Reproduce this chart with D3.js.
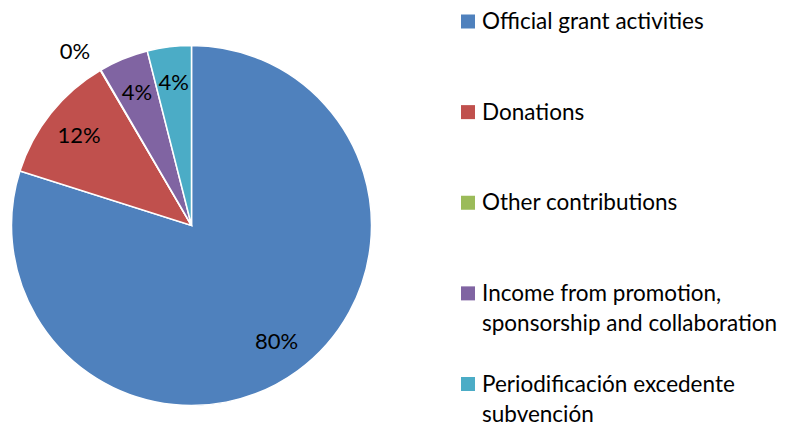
<!DOCTYPE html>
<html>
<head>
<meta charset="utf-8">
<script src="https://cdn.jsdelivr.net/npm/d3@7"></script>
<style>
  body { margin: 0; background: #fff; }
  text { font-family: Lato, "Open Sans", sans-serif; fill: #000; }
</style>
</head>
<body>
<script>
const categories = [
  'Official grant activities',
  'Donations',
  'Other contributions',
  'Income from promotion, sponsorship and collaboration',
  'Periodificación excedente subvención'
]
const legendLines = [
  ['Official grant activities'],
  ['Donations'],
  ['Other contributions'],
  ['Income from promotion,', 'sponsorship and collaboration'],
  ['Periodificación excedente', 'subvención']
]
const values = [79.9, 11.65, 0.05, 4.45, 3.95]
const labels = ['80%', '12%', '0%', '4%', '4%']
const colors = ['#4F81BD', '#C0504D', '#9BBB59', '#8064A2', '#4BACC6']

const W = 802, H = 422
const cx = 191.5, cy = 225.5, R = 180

const svg = d3.select('body')
  .append('svg')
  .attr('width', W)
  .attr('height', H)

const data = categories.map((c, i) => ({ name: c, v: values[i], label: labels[i], color: colors[i] }))

const pie = d3.pie().value(d => d.v).sort(null)
const arcs = pie(data)
const arc = d3.arc().innerRadius(0).outerRadius(R)

const g = svg.append('g')
  .attr('transform', `translate(${cx}, ${cy})`)

g.selectAll('path.slice')
  .data(arcs)
  .enter()
  .append('path')
  .attr('class', 'slice')
  .attr('d', arc)
  .attr('fill', d => d.data.color)
  .attr('stroke', '#fff')
  .attr('stroke-width', 1.5)

// labels inside at 0.8R, tiny slice goes outside
const inner = d3.arc().innerRadius(R * 0.8).outerRadius(R * 0.8)
const outer = d3.arc().innerRadius(R * 1.15).outerRadius(R * 1.15)

g.selectAll('text.lbl')
  .data(arcs)
  .enter()
  .append('text')
  .attr('class', 'lbl')
  .attr('transform', d => {
    const p = (d.data.v < 1 ? outer : inner).centroid(d)
    if (d.data.v < 1) { p[0] -= 12; p[1] += 4 }
    return `translate(${p[0]}, ${p[1]})`
  })
  .attr('text-anchor', 'middle')
  .attr('dy', '0.35em')
  .style('font-size', '22px')
  .text(d => d.data.label)

// legend
const legY = d3.scaleLinear().domain([0, 4]).range([21.5, 384])

const leg = svg.selectAll('g.leg')
  .data(data)
  .enter()
  .append('g')
  .attr('class', 'leg')
  .attr('transform', (d, i) => `translate(461, ${legY(i)})`)

leg.append('rect')
  .attr('x', 0)
  .attr('y', -7)
  .attr('width', 14)
  .attr('height', 14)
  .attr('fill', d => d.color)

leg.append('text')
  .attr('x', 21)
  .attr('y', 7.5)
  .style('font-size', '22.5px')
  .selectAll('tspan')
  .data((d, i) => legendLines[i])
  .enter()
  .append('tspan')
  .attr('x', 21)
  .attr('dy', (d, j) => j === 0 ? 0 : 30)
  .text(d => d)
</script>
</body>
</html>
